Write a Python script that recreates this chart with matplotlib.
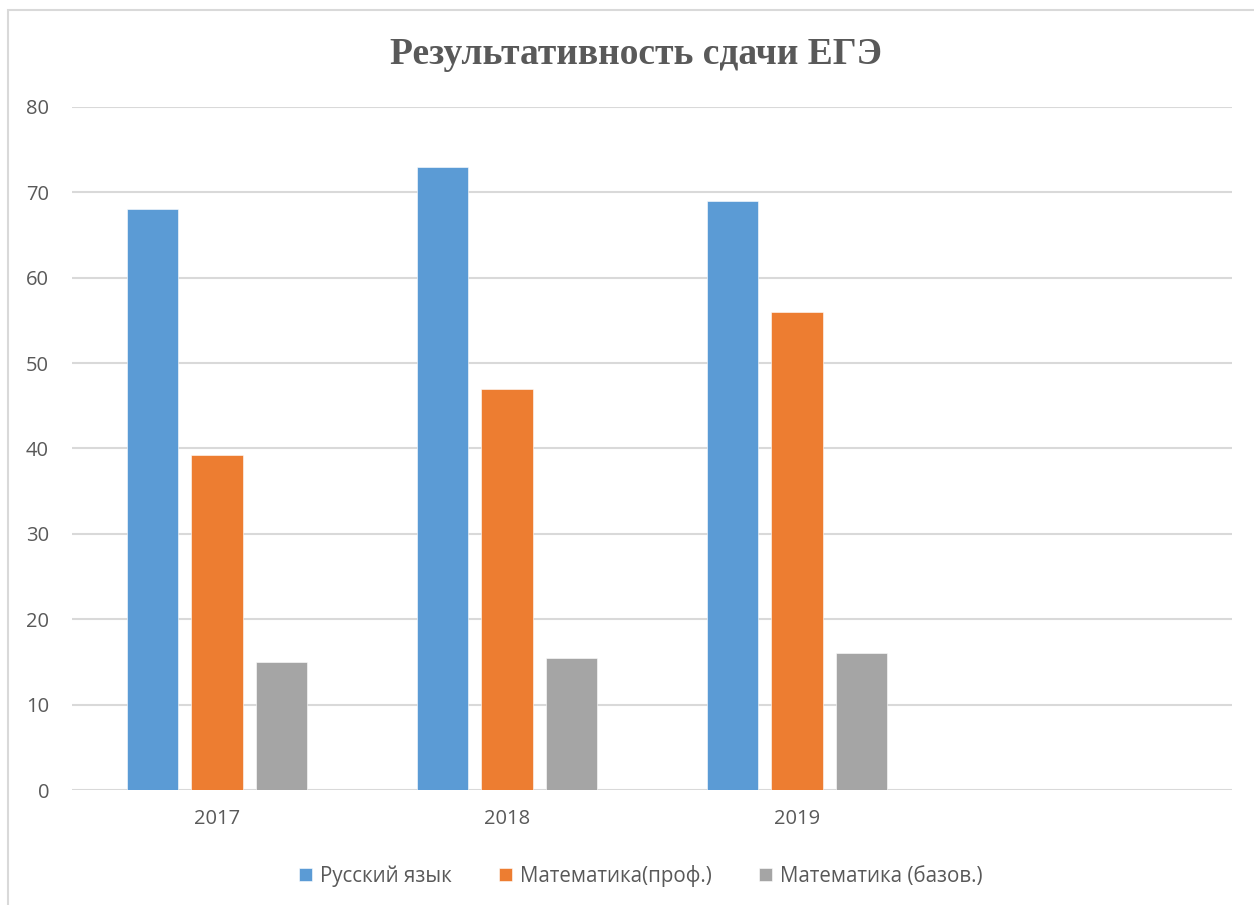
import matplotlib
matplotlib.use("Agg")
import matplotlib.pyplot as plt
import numpy as np
from matplotlib.patches import Rectangle

categories = ["2017", "2018", "2019", ""]
series_names = ["Русский язык", "Математика(проф.)", "Математика (базов.)"]
russian = [68, 73, 69, None]
math_prof = [39.2, 47, 56, None]
math_base = [15, 15.5, 16, None]
yticks = [0, 10, 20, 30, 40, 50, 60, 70, 80]
title = "Результативность сдачи ЕГЭ"

colors = ["#5B9BD5", "#ED7D31", "#A5A5A5"]
text_color = "#595959"
grid_color = "#D9D9D9"

fig = plt.figure(figsize=(12.54, 9.05), dpi=100)
fig.patch.set_facecolor("white")
fig.patches.append(Rectangle((8 / 1254, -0.01), 1.02, (905 - 10) / 905 + 0.01,
                             transform=fig.transFigure, fill=False,
                             edgecolor=grid_color, linewidth=1.5, zorder=0))

ax = fig.add_axes([72 / 1254, (905 - 790) / 905, 1160 / 1254, 683 / 905])
x = np.arange(len(categories))
width = 0.176
step = 0.224
for i, (name, vals) in enumerate(zip(series_names, [russian, math_prof, math_base])):
    xs = [xi + (i - 1) * step for xi, v in zip(x, vals) if v is not None]
    hs = [v for v in vals if v is not None]
    ax.bar(xs, hs, width=width, color=colors[i], label=name, zorder=3,
           edgecolor="white", linewidth=0.4)

ax.set_xlim(-0.5, len(categories) - 0.5)
ax.set_ylim(0, 80)
ax.set_yticks(yticks)
ax.set_xticks(x)
ax.set_xticklabels(categories)
for s in ax.spines.values():
    s.set_visible(False)
ax.yaxis.grid(True, color=grid_color, linewidth=1.5, zorder=0)
ax.set_axisbelow(True)
ax.tick_params(axis="both", length=0, colors=text_color, labelsize=14.5)
ax.tick_params(axis="y", pad=16.5)
ax.tick_params(axis="x", pad=14)
for lab in ax.get_xticklabels() + ax.get_yticklabels():
    lab.set_fontfamily("Open Sans")

fig.text(636 / 1254, 1 - 55 / 905, title, ha="center", va="center",
         fontfamily="Liberation Serif", fontweight="bold", fontsize=27,
         color=text_color)

leg = fig.legend(loc="center", bbox_to_anchor=(641 / 1254, 1 - 876 / 905),
                 ncol=3, frameon=False, handlelength=0.62, handleheight=0.62,
                 handletextpad=0.4, columnspacing=2.3,
                 prop={"family": "Open Sans", "size": 14.8})
for t in leg.get_texts():
    t.set_color(text_color)

fig.savefig("out.png", dpi=100, facecolor="white")
